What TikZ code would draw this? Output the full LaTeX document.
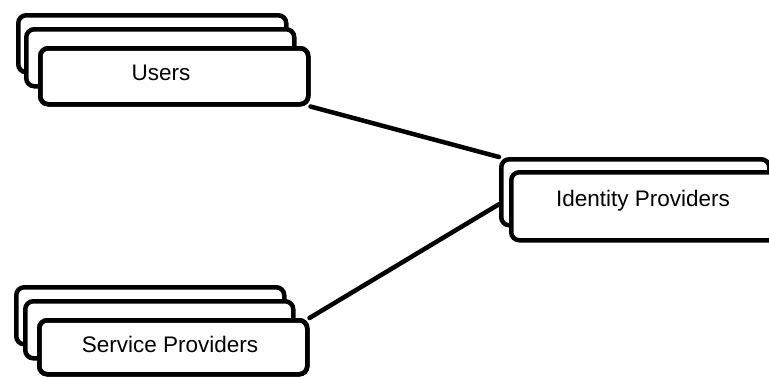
\documentclass[tikz,border=0pt]{standalone}
\usepackage{fontspec}
\setmainfont{Liberation Sans}
\usetikzlibrary{calc}
\begin{document}
\begin{tikzpicture}[x=1pt,y=-1pt,
  card/.style={draw=black,fill=white,line width=4.5pt,rounded corners=8pt,
    minimum width=268pt,minimum height=57pt,inner sep=0pt,anchor=north west},
  bigcard/.style={card,minimum height=66pt},
  label/.style={font=\fontsize{22.5}{26}\selectfont,inner sep=0pt},
  link/.style={line width=4.5pt,line cap=round}]
\useasboundingbox (0,0) rectangle (769,376);
\clip (0,0) rectangle (769,376);
% Users stack
\node[card] (ub) at (16,13) {};
\node[card] (um) at (24,27) {};
\node[card,minimum height=56pt] (uf) at (38,46) {};
\node[label] (ut) at (161,73) {Users};
% Service providers stack
\node[card] (sb) at (14,285) {};
\node[card] (sm) at (23,299) {};
\node[card,minimum height=54pt] (sf) at (37,318) {};
\node[label] (st) at (170,344) {Service Providers};
% Identity providers stack
\node[bigcard] (ib) at (499,157) {};
\node[bigcard,minimum height=68pt] (iff) at (509,170) {};
\node[label] (it) at (643,201) {Identity Providers};
% connectors
\coordinate (ij) at ($(ib.north west)!0.67!(ib.south west)$);
\draw[link] (uf.south east) -- (ib.north west);
\draw[link] (sf.north east) -- (ij);
% redraw front outlines so the connector ends sit under them
\node[card,minimum height=56pt,fill=none] (ufo) at (38,46) {};
\node[card,minimum height=54pt,fill=none] (sfo) at (37,318) {};
\end{tikzpicture}
\end{document}
